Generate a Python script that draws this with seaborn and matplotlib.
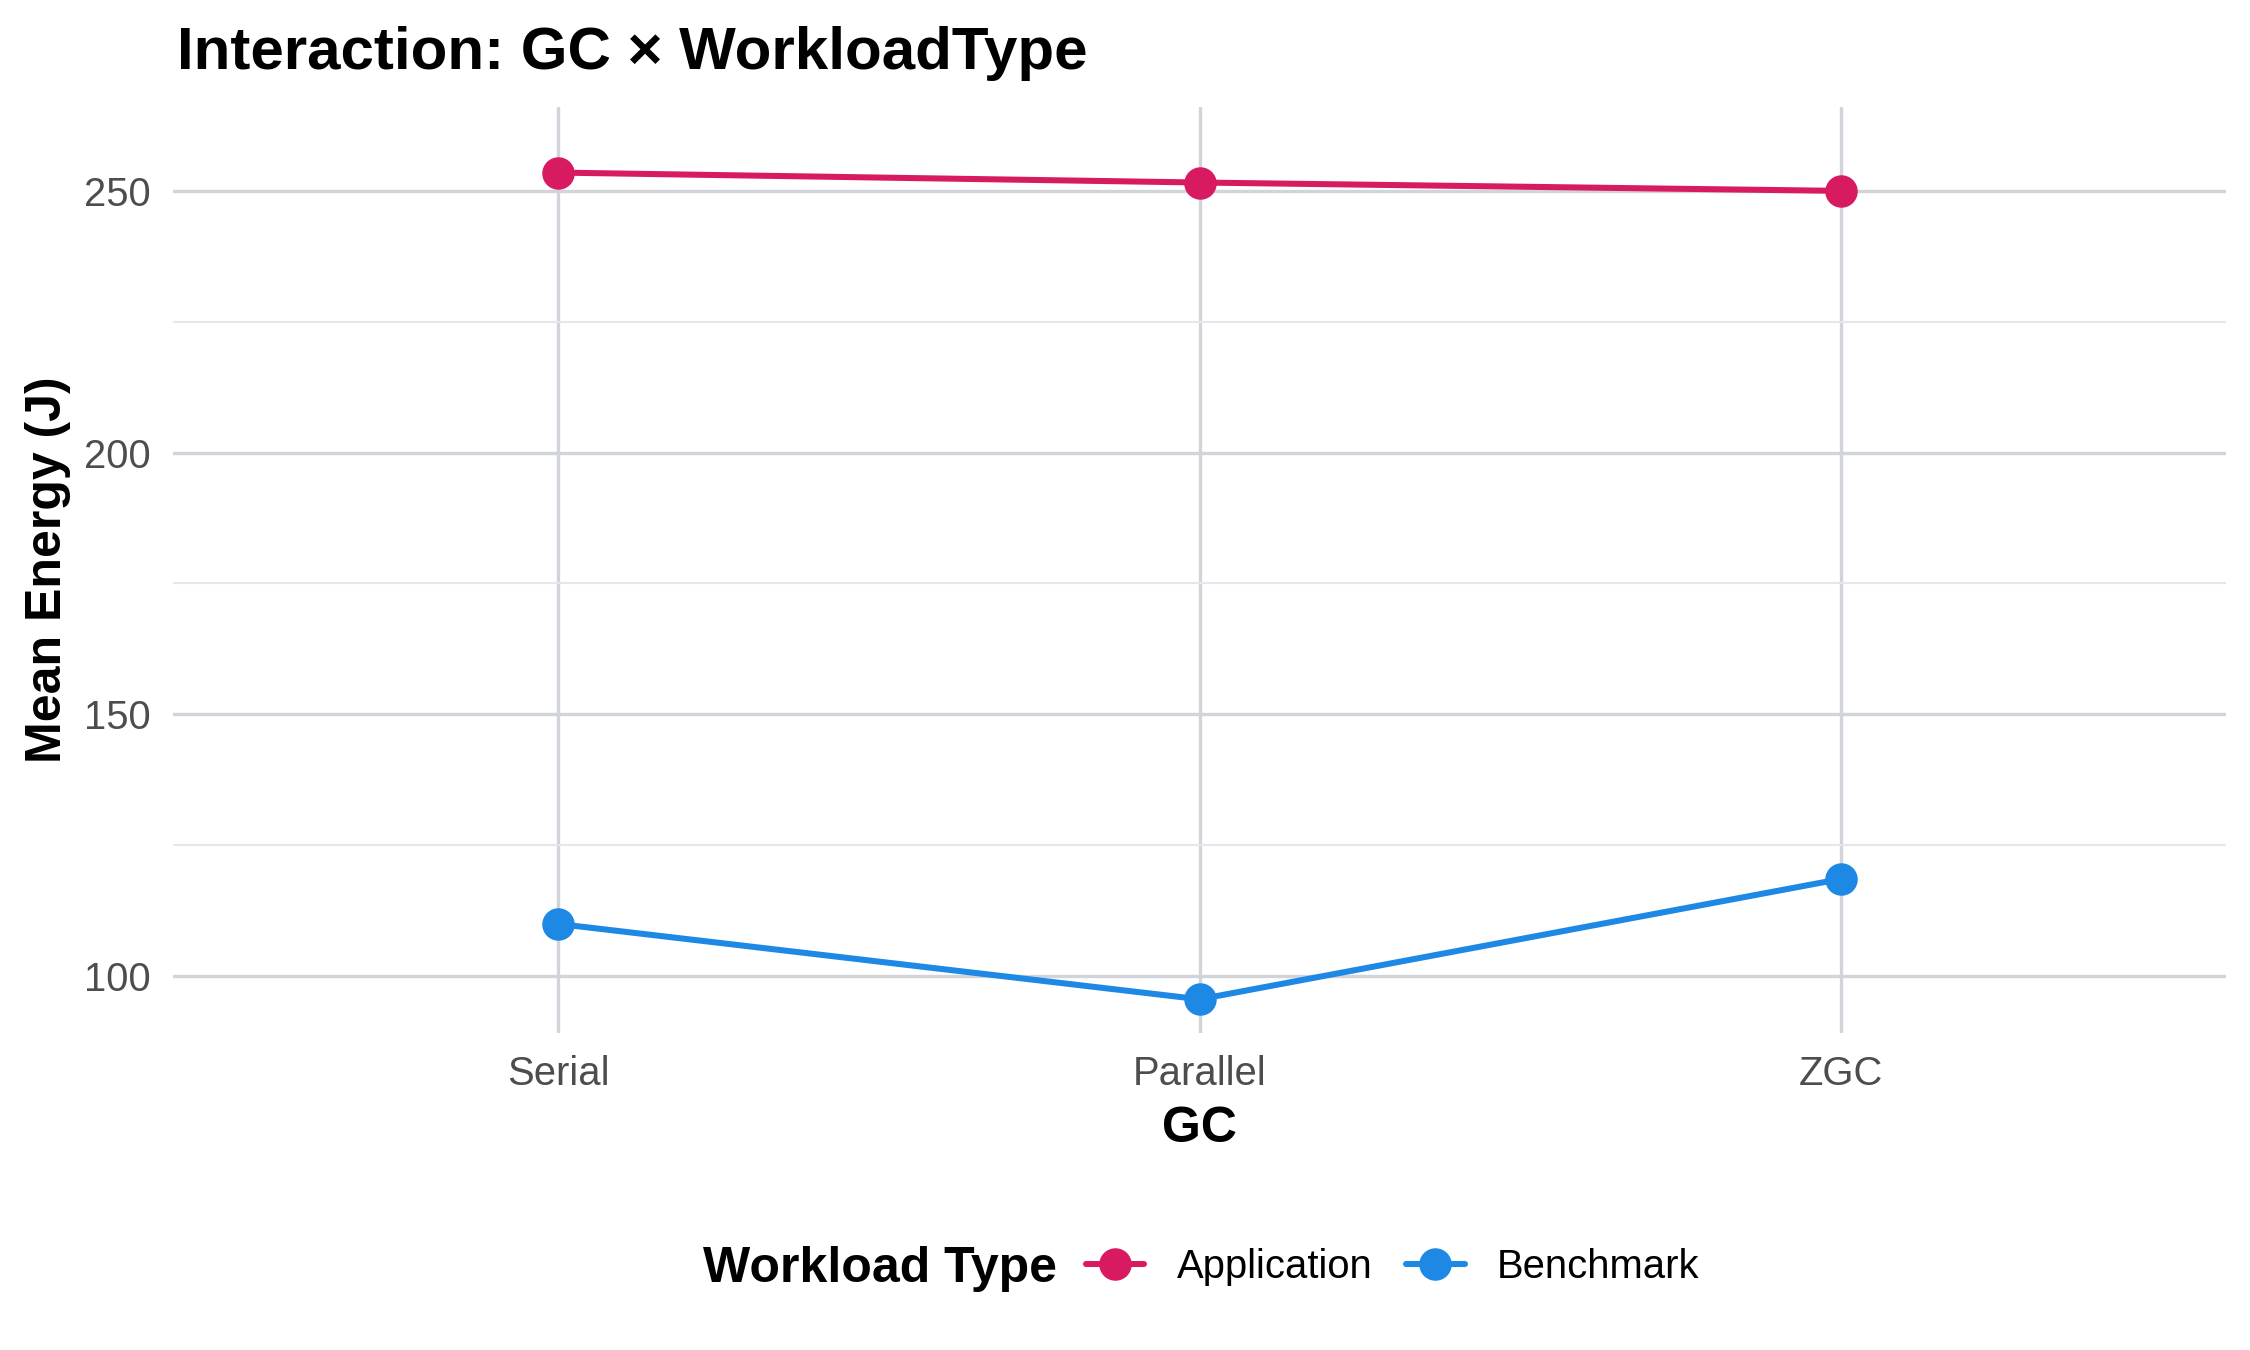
import pandas as pd
import matplotlib
matplotlib.use("Agg")
import matplotlib.pyplot as plt
import seaborn as sns
from matplotlib.lines import Line2D
from matplotlib.ticker import MultipleLocator

# values
gc_levels = ['Serial', 'Parallel', 'ZGC']
workload_types = ['Application', 'Benchmark']
app_energy = [253.5, 251.6, 250.0]
bench_energy = [109.9, 95.5, 118.5]
colors = {'Application': '#D81B60', 'Benchmark': '#1E88E5'}

df = pd.DataFrame({
    'GC': gc_levels * 2,
    'WorkloadType': ['Application'] * 3 + ['Benchmark'] * 3,
    'MeanEnergy': app_energy + bench_energy,
})

sns.set_theme(style="whitegrid")
plt.rcParams['font.family'] = ['Liberation Sans', 'DejaVu Sans']
plt.rcParams['text.color'] = 'black'

fig = plt.figure(figsize=(7.5, 4.5), dpi=300)
ax = fig.add_axes([0.0770, 0.2346, 0.9123, 0.6864])

sns.lineplot(data=df, x='GC', y='MeanEnergy', hue='WorkloadType',
             hue_order=workload_types, palette=colors, sort=False,
             marker='o', markersize=7.8, markeredgewidth=0, linewidth=1.45,
             legend=False, ax=ax, zorder=3)

ax.set_xlim(-0.6, 2.6)
ax.set_ylim(89.0, 266.1)
ax.yaxis.set_major_locator(MultipleLocator(50))
ax.yaxis.set_minor_locator(MultipleLocator(25))

ax.set_facecolor('white')
for s in ax.spines.values():
    s.set_visible(False)
ax.grid(False)
ax.grid(True, which='major', axis='both', color='#D1D5DB', linewidth=0.8)
ax.grid(True, which='minor', axis='y', color='#E5E7EB', linewidth=0.5)
ax.set_axisbelow(True)
ax.tick_params(axis='both', which='both', length=0, labelsize=9.6,
               labelcolor='#4D4D4D', pad=5.3)

ax.set_xlabel('GC', fontsize=12, fontweight='bold', color='black', va='baseline')
ax.xaxis.set_label_coords(0.5, -0.117)
ax.set_ylabel('Mean Energy (J)', fontsize=12, fontweight='bold', color='black', va='center')
ax.yaxis.set_label_coords(-0.0609, 0.5)

fig.text(0.0785, 0.9489, 'Interaction: GC × WorkloadType', fontsize=14.4,
         fontweight='bold', color='black', ha='left', va='baseline')

# legend at the bottom, title on the left
fig.text(0.3124, 0.0506, 'Workload Type', fontsize=12, fontweight='bold',
         color='black', ha='left', va='baseline')
handles = [Line2D([], [], color=colors[w], marker='o', markersize=7.8,
                  markeredgewidth=0, linewidth=1.45) for w in workload_types]
fig.legend(handles, workload_types, loc='center left',
           bbox_to_anchor=(0.4827, 0.0615), ncol=2, frameon=False,
           fontsize=9.6, labelcolor='black', handlelength=1.46, handletextpad=0.8,
           columnspacing=0.85, borderpad=0, borderaxespad=0)

fig.savefig('out.png', dpi=300, facecolor='white')
